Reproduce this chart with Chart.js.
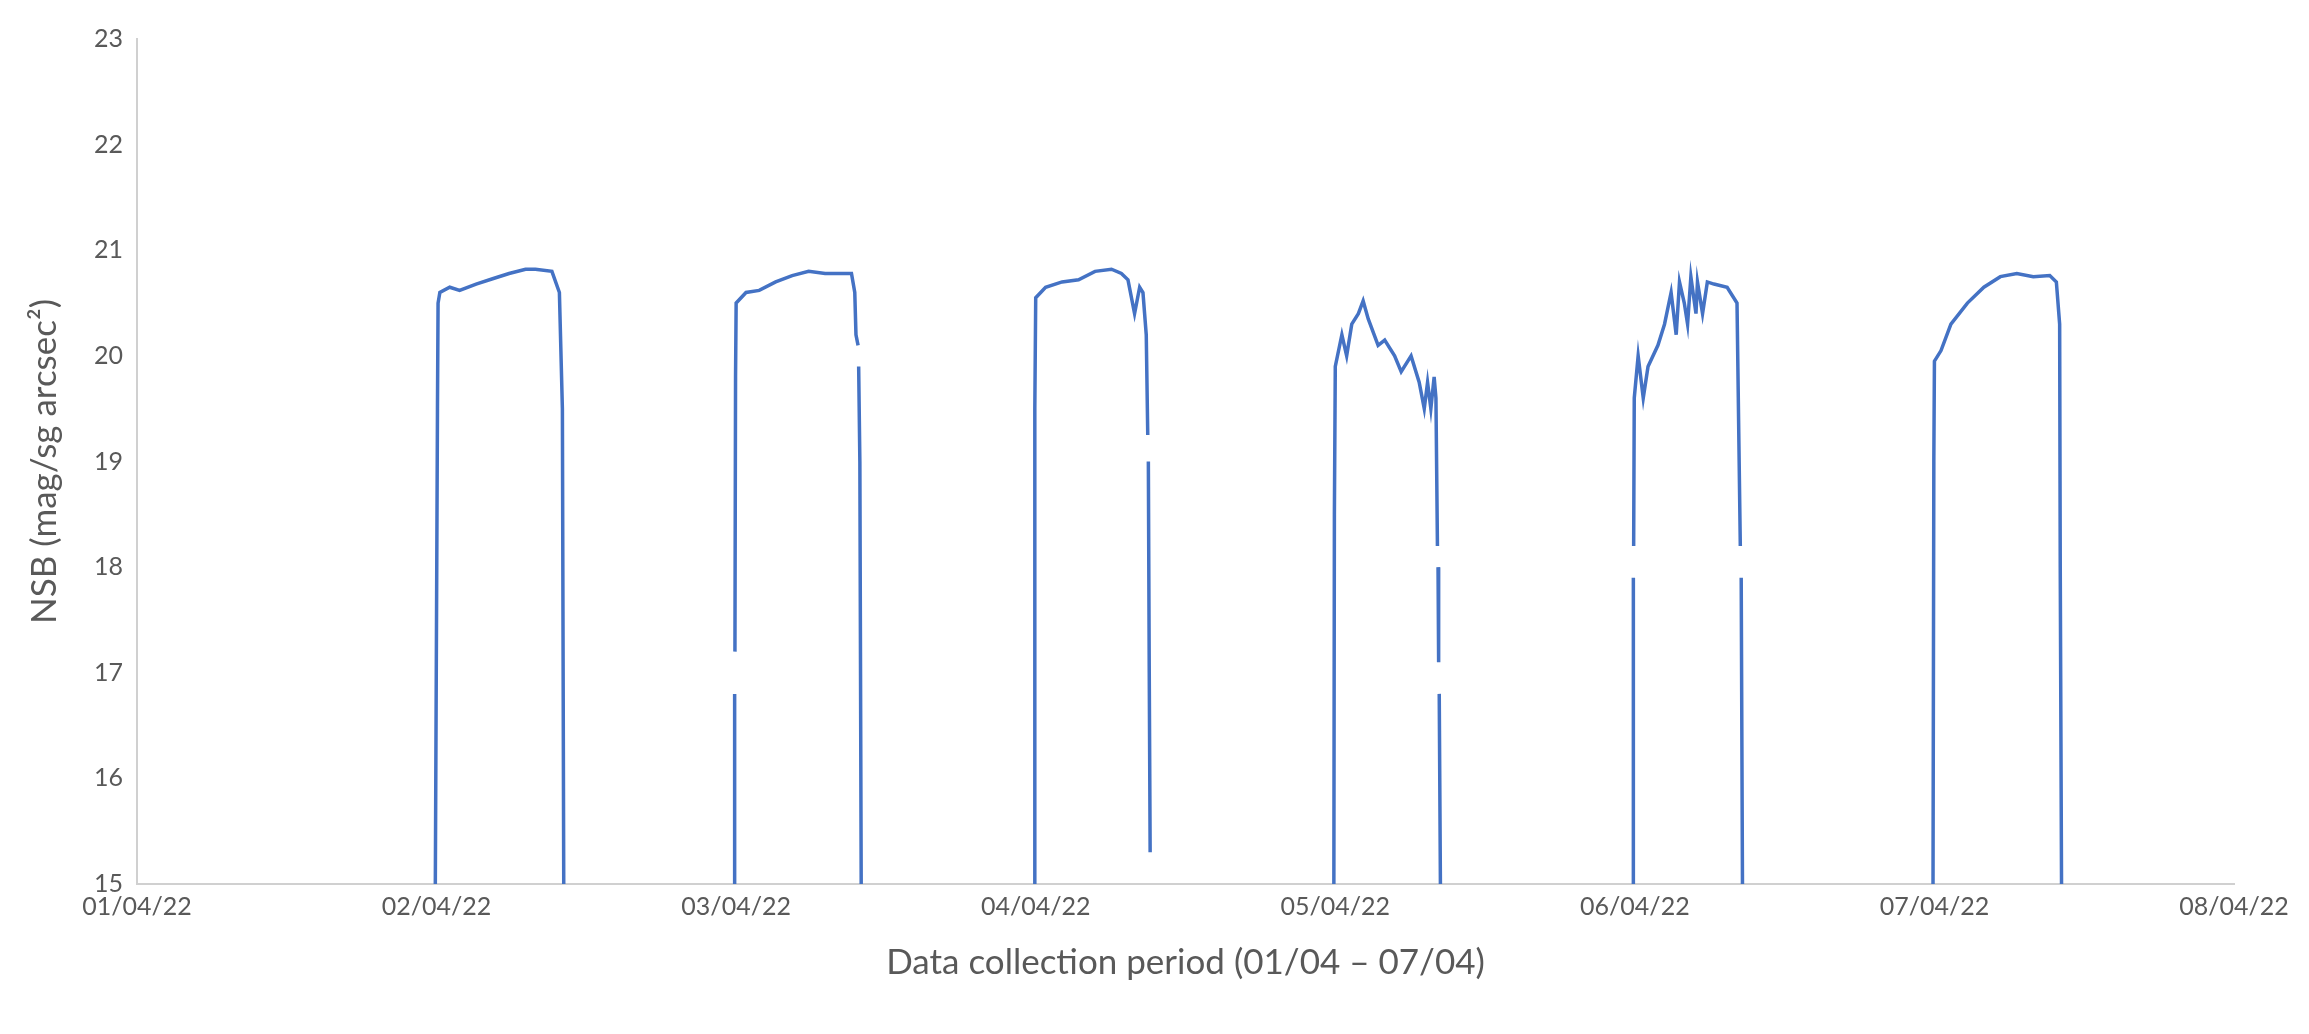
<!DOCTYPE html>
<html><head><meta charset="utf-8">
<script src="https://cdn.jsdelivr.net/npm/chart.js@4"></script>
<style>html,body{margin:0;background:#fff}#c{display:block}</style>
</head><body>
<canvas id="c" width="2309" height="1034"></canvas>
<script>
// x in days since 01/04/22 00:00, y NSB in mag/arcsec^2; null = missing reading
const night1X = [0.995, 1.003, 1.005, 1.011, 1.044, 1.077, 1.132, 1.187, 1.242, 1.297, 1.33, 1.385, 1.41, 1.42, 1.425];
const night1Y = [14.5, 19.5, 20.5, 20.6, 20.65, 20.62, 20.68, 20.73, 20.78, 20.82, 20.82, 20.8, 20.6, 19.5, 14.5];
const night2X = [1.995, 1.995, 1.995, 1.996, 1.998, 2.00, 2.033, 2.077, 2.132, 2.187, 2.242, 2.297, 2.352, 2.385, 2.396, 2.40, 2.407, 2.407, 2.409, 2.413, 2.418];
const night2Y = [14.5, 16.8, null, 17.2, 19.8, 20.5, 20.6, 20.62, 20.7, 20.76, 20.8, 20.78, 20.78, 20.78, 20.6, 20.2, 20.1, null, 19.9, 19.0, 14.5];
const night3X = [2.995, 2.997, 3.00, 3.033, 3.088, 3.143, 3.198, 3.253, 3.286, 3.308, 3.33, 3.347, 3.358, 3.369, 3.374, 3.374, 3.376, 3.379, 3.382];
const night3Y = [14.5, 19.5, 20.55, 20.65, 20.7, 20.72, 20.8, 20.82, 20.78, 20.72, 20.4, 20.65, 20.6, 20.2, 19.25, null, 19.0, 17.0, 15.3];
const night4X = [3.995, 3.997, 4.0, 4.022, 4.038, 4.055, 4.077, 4.093, 4.11, 4.143, 4.165, 4.198, 4.22, 4.253, 4.28, 4.297, 4.308, 4.319, 4.33, 4.336, 4.341, 4.341, 4.343, 4.345, 4.345, 4.347, 4.352];
const night4Y = [14.5, 18.5, 19.9, 20.2, 20.0, 20.3, 20.4, 20.52, 20.35, 20.1, 20.15, 20.0, 19.85, 20.0, 19.75, 19.5, 19.75, 19.5, 19.8, 19.6, 18.2, null, 18.0, 17.1, null, 16.8, 14.5];
const night5X = [4.995, 4.995, 4.995, 4.996, 4.998, 5.011, 5.028, 5.044, 5.077, 5.099, 5.121, 5.138, 5.149, 5.165, 5.176, 5.187, 5.204, 5.209, 5.226, 5.242, 5.264, 5.308, 5.341, 5.352, 5.352, 5.355, 5.36];
const night5Y = [14.5, 17.9, null, 18.2, 19.6, 20.0, 19.6, 19.9, 20.1, 20.3, 20.6, 20.2, 20.7, 20.5, 20.3, 20.75, 20.4, 20.7, 20.4, 20.7, 20.68, 20.65, 20.5, 18.2, null, 17.9, 14.5];
const night6X = [5.995, 5.998, 6.0, 6.022, 6.055, 6.11, 6.165, 6.22, 6.275, 6.33, 6.385, 6.407, 6.418, 6.42, 6.425];
const night6Y = [14.5, 19.0, 19.95, 20.05, 20.3, 20.5, 20.65, 20.75, 20.78, 20.75, 20.76, 20.7, 20.3, 18.0, 14.5];
const xTickLabels = ['01/04/22','02/04/22','03/04/22','04/04/22','05/04/22','06/04/22','07/04/22','08/04/22'];
const yMin = 15, yMax = 23;

const nights = [[night1X, night1Y], [night2X, night2Y], [night3X, night3Y], [night4X, night4Y], [night5X, night5Y], [night6X, night6Y]];
const font = "Lato, 'Open Sans', sans-serif";
new Chart(document.getElementById('c'), {
  type: 'line',
  data: {datasets: nights.map(([xs, ys]) => ({
    data: xs.map((x, i) => ({x, y: ys[i]})),
    borderColor: '#4472C4', borderWidth: 3.5, pointRadius: 0, tension: 0, spanGaps: false
  }))},
  options: {
    responsive: false, animation: false,
    plugins: {legend: {display: false}, tooltip: {enabled: false}},
    layout: {padding: {top: 39, right: 75, left: 20, bottom: 40}},
    scales: {
      x: {
        type: 'linear', min: 0, max: 7,
        afterFit: s => { s.height = 110; },
        afterBuildTicks: s => { s.ticks = xTickLabels.map((_, i) => ({value: i})); },
        ticks: {callback: (v) => xTickLabels[v], color: '#595959', font: {family: font, size: 25}, padding: 8, maxRotation: 0},
        grid: {display: false, drawTicks: false},
        border: {display: true, color: '#d0d0d0', width: 2},
        title: {display: true, text: 'Data collection period (01/04 – 07/04)', color: '#595959', font: {family: font, size: 35}, padding: {top: 0, bottom: 10}}
      },
      y: {
        min: yMin, max: yMax,
        afterFit: s => { s.width = 117; },
        ticks: {stepSize: 1, color: '#595959', font: {family: font, size: 25}, padding: 14},
        grid: {display: false, drawTicks: false},
        border: {display: true, color: '#d0d0d0', width: 2},
        title: {display: true, text: 'NSB (mag/sg arcsec²)', color: '#595959', font: {family: font, size: 35}, padding: {bottom: 10}}
      }
    }
  }
});
</script>
</body></html>
